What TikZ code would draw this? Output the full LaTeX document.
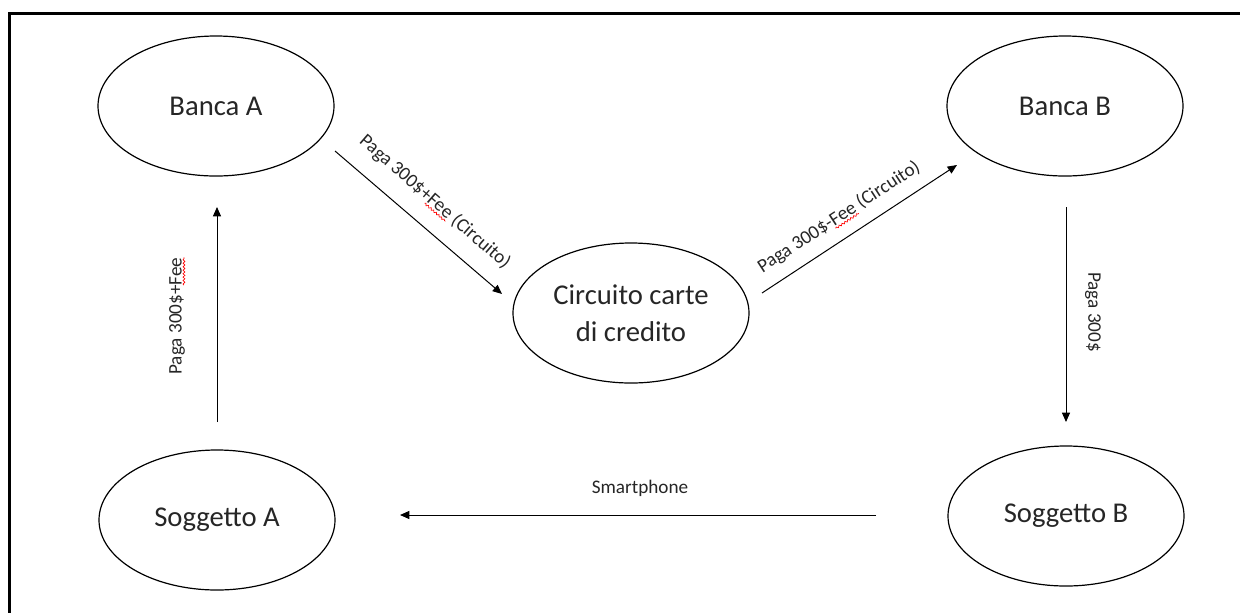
\documentclass[tikz,border=0pt]{standalone}
\usepackage{fontspec}
\setmainfont{Carlito}
\usetikzlibrary{arrows.meta,shapes.geometric,decorations.pathmorphing}
\newsavebox\wavebox
\newcommand\redwave[1]{\sbox\wavebox{#1}\rlap{\tikz[overlay]{\draw[red,line width=0.5pt,decorate,decoration={snake,amplitude=0.7pt,segment length=2.6pt}] (0pt,-1.8pt) -- (\wd\wavebox,-1.8pt);}}\usebox\wavebox}
\begin{document}
\begin{tikzpicture}[x=0.75pt,y=-0.75pt,
  oval/.style={ellipse,draw=black,line width=0.9pt,minimum width=177pt,minimum height=105pt,inner sep=0pt,
    font=\fontsize{21.5}{27.75}\selectfont,text=black!85,align=center},
  conn/.style={draw=black,line width=0.75pt,-{Triangle[length=7pt,width=6pt]}},
  lbl/.style={font=\fontsize{14.4}{17}\selectfont,text=black!85,inner sep=0pt}]
\useasboundingbox (0,0) rectangle (1240,612);
\draw[line width=2.25pt] (9,620) -- (9,13) -- (1250,13);
\node[oval] (ba) at (216,106) {Banca A};
\node[oval] (bb) at (1065,106) {Banca B};
\node[oval] (cc) at (631,313) {Circuito carte\\di credito};
\node[oval] (sa) at (217,520) {Soggetto A};
\node[oval] (sb) at (1066,516) {Soggetto B};
\coordinate (a1s) at (217,422); \coordinate (a1e) at (217,207);
\coordinate (a2s) at (335,151); \coordinate (a2e) at (502,294);
\coordinate (a3s) at (762,293); \coordinate (a3e) at (957,165);
\coordinate (a4s) at (1066,207); \coordinate (a4e) at (1066,422);
\coordinate (a5s) at (876,515); \coordinate (a5e) at (400,515);
\draw[conn] (a1s) -- (a1e);
\draw[conn] (a2s) -- (a2e);
\draw[conn] (a3s) -- (a3e);
\draw[conn] (a4s) -- (a4e);
\draw[conn] (a5s) -- (a5e);
\node[lbl,rotate=90] (l1) at (177,316) {Paga 300\$+\redwave{Fee}};
\node[lbl,rotate=-41] (l2) at (435,202) {Paga 300\$+\redwave{Fee} (Circuito)};
\node[lbl,rotate=33] (l3) at (839,217) {Paga 300\$-\redwave{Fee} (Circuito)};
\node[lbl,rotate=-90] (l4) at (1093,312) {Paga 300\$};
\node[lbl] (l5) at (640,488) {Smartphone};
\end{tikzpicture}
\end{document}
